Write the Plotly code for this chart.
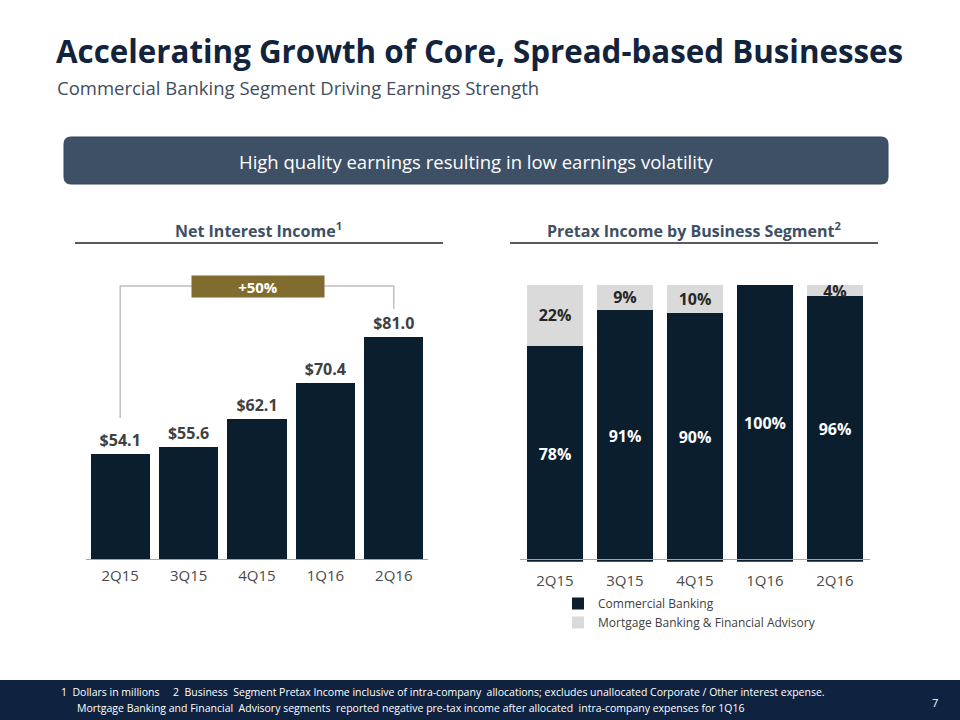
import plotly.graph_objects as go

# ---------------- data ----------------
quarters = ["2Q15", "3Q15", "4Q15", "1Q16", "2Q16"]
net_interest_income = [54.1, 55.6, 62.1, 70.4, 81.0]
commercial_pct = [78, 91, 90, 100, 96]
mortgage_pct = [22, 9, 10, 0, 4]

title = "Accelerating Growth of Core, Spread-based Businesses"
subtitle = "Commercial Banking Segment Driving Earnings Strength"
banner = "High quality earnings resulting in low earnings volatility"
left_header = "Net Interest Income<sup>1</sup>"
right_header = "Pretax Income by Business Segment<sup>2</sup>"
footnote1 = "1  Dollars in millions     2  Business  Segment Pretax Income inclusive of intra-company  allocations; excludes unallocated Corporate / Other interest expense."
footnote2 = "Mortgage Banking and Financial  Advisory segments  reported negative pre-tax income after allocated  intra-company expenses for 1Q16"
page_no = "7"

# ---------------- style ----------------
W, H = 960, 720
FONT = "Open Sans"
NAVY = "#0a1e2e"
LIGHT = "#dadada"
GOLD = "#806c2f"
TXT = "#404040"


def px(x):
    return x / W


def py(y):
    return 1 - y / H


fig = go.Figure()

# Left chart: net interest income
fig.add_trace(go.Bar(
    x=quarters, y=net_interest_income, xaxis="x", yaxis="y",
    marker=dict(color=NAVY, line=dict(width=0)),
    text=[f"${v:.1f}" for v in net_interest_income],
    textposition="outside", cliponaxis=False,
    textfont=dict(family=FONT, size=19, color=TXT, weight="bold"),
    showlegend=False, hoverinfo="x+y",
))

# Right chart: pretax income by segment (stacked)
fig.add_trace(go.Bar(
    x=quarters, y=commercial_pct, xaxis="x2", yaxis="y2",
    name="Commercial Banking", width=0.79,
    marker=dict(color=NAVY, line=dict(width=0)),
    text=[f"{v}%" for v in commercial_pct],
    textposition="inside", insidetextanchor="middle", textangle=0,
    textfont=dict(family=FONT, size=16, color="white", weight="bold"),
))
fig.add_trace(go.Bar(
    x=quarters, y=mortgage_pct, xaxis="x2", yaxis="y2",
    name="Mortgage Banking & Financial Advisory", width=0.79,
    marker=dict(color=LIGHT, line=dict(width=0)),
    text=[f"{v}%" if v else None for v in mortgage_pct],
    textposition="inside", insidetextanchor="middle", textangle=0,
    textfont=dict(family=FONT, size=16, color="#262626", weight="bold"),
))

# axis geometry
L_base, L_unit = 30, 4.36  # px per $M
L_top_px, L_bot_px = 270, 559
L_range_top = L_base + (L_bot_px - L_top_px) / L_unit

tickfont = dict(family=FONT, size=15, color="#4a4a4a")

fig.update_layout(
    width=W, height=H, margin=dict(l=0, r=0, t=0, b=0),
    paper_bgcolor="white", plot_bgcolor="white",
    barmode="stack", bargap=0.134,
    uniformtext=dict(minsize=16, mode="show"),
    font=dict(family=FONT, color=TXT),
    xaxis=dict(domain=[px(86), px(428)], showline=True, linecolor="#a6a6a6", linewidth=1,
               ticks="", tickfont=tickfont, showgrid=False, ticklabelstandoff=3,
               fixedrange=True),
    yaxis=dict(domain=[py(L_bot_px), py(L_top_px)], range=[L_base, L_range_top],
               visible=False, fixedrange=True),
    xaxis2=dict(domain=[px(520), px(870)], showline=True, linecolor="#a6a6a6", linewidth=1,
                ticks="", tickfont=tickfont, showgrid=False, ticklabelstandoff=8,
                fixedrange=True),
    yaxis2=dict(domain=[py(561.7), py(285)], range=[0, 100], visible=False,
                fixedrange=True),
    legend=dict(x=px(558), y=py(589), xanchor="left", yanchor="top",
                orientation="v", traceorder="normal", itemwidth=30,
                font=dict(family=FONT, size=12, color=TXT), bgcolor="rgba(0,0,0,0)",
                tracegroupgap=0),
)

shapes = []
annotations = []

# banner (rounded rectangle)
bx0, bx1, by0, by1, r = 64, 888, 137, 184, 7
rx, ry = r / W, r / H
X0, X1, Yt, Yb = px(bx0), px(bx1), py(by0), py(by1)
banner_path = (f"M {X0 + rx},{Yt} L {X1 - rx},{Yt} Q {X1},{Yt} {X1},{Yt - ry} "
               f"L {X1},{Yb + ry} Q {X1},{Yb} {X1 - rx},{Yb} L {X0 + rx},{Yb} "
               f"Q {X0},{Yb} {X0},{Yb + ry} L {X0},{Yt - ry} Q {X0},{Yt} {X0 + rx},{Yt} Z")
shapes.append(dict(type="path", xref="paper", yref="paper", path=banner_path,
                   fillcolor="#3d5066", line=dict(color="#34465b", width=1), layer="below"))
annotations.append(dict(text=banner, xref="paper", yref="paper", x=px(476), y=py(161),
                        showarrow=False, font=dict(family=FONT, size=18.5, color="white"),
                        xanchor="center", yanchor="middle"))

# title & subtitle
annotations.append(dict(text=f"<b>{title}</b>", xref="paper", yref="paper", x=px(54), y=py(51),
                        showarrow=False, xanchor="left", yanchor="middle",
                        font=dict(family=FONT, size=31.3, color="#12233d")))
annotations.append(dict(text=subtitle, xref="paper", yref="paper", x=px(55), y=py(87),
                        showarrow=False, xanchor="left", yanchor="middle",
                        font=dict(family=FONT, size=18.5, color="#3f4d5e")))

# section headers and underlines
for txt, xc, x0, x1 in [(left_header, 258, 75, 443), (right_header, 694, 510, 878)]:
    annotations.append(dict(text=f"<b>{txt}</b>", xref="paper", yref="paper", x=px(xc), y=py(230),
                            showarrow=False, xanchor="center", yanchor="middle",
                            font=dict(family=FONT, size=16, color="#3d5066")))
    shapes.append(dict(type="line", xref="paper", yref="paper", x0=px(x0), x1=px(x1),
                       y0=py(243), y1=py(243), line=dict(color="#5a5a5a", width=2)))

# growth bracket (tied to first and last bars)
first, last = net_interest_income[0], net_interest_income[-1]
growth = (last / first - 1) * 100
y_top = L_base + (L_bot_px - 286) / L_unit
bracket_color = "#bfbfbf"
shapes.append(dict(type="path", xref="x", yref="y",
                   path=f"M 0,{first + 36 / L_unit} L 0,{y_top} L 4,{y_top} L 4,{last + 28 / L_unit}",
                   line=dict(color=bracket_color, width=1.5)))
annotations.append(dict(text=f"<b>+{growth:.0f}%</b>", xref="paper", yref="y",
                        x=px(258), y=y_top, showarrow=False, xanchor="center", yanchor="middle",
                        width=130, height=19, bgcolor=GOLD,
                        font=dict(family=FONT, size=15, color="white")))

# footer band
shapes.append(dict(type="rect", xref="paper", yref="paper", x0=0, x1=1, y0=0, y1=py(680),
                   fillcolor="#0f2340", line=dict(width=0), layer="below"))
annotations.append(dict(text=footnote1, xref="paper", yref="paper", x=px(59), y=py(692),
                        showarrow=False, xanchor="left", yanchor="middle",
                        font=dict(family=FONT, size=10.5, color="white")))
annotations.append(dict(text=footnote2, xref="paper", yref="paper", x=px(75), y=py(708),
                        showarrow=False, xanchor="left", yanchor="middle",
                        font=dict(family=FONT, size=10.5, color="white")))
annotations.append(dict(text=page_no, xref="paper", yref="paper", x=px(935), y=py(702),
                        showarrow=False, xanchor="center", yanchor="middle",
                        font=dict(family=FONT, size=11, color="white")))

fig.update_layout(shapes=shapes, annotations=annotations)

fig.write_html("out.html", config={"displayModeBar": False},
               post_script="document.body.style.margin='0';document.body.style.overflow='hidden';")
